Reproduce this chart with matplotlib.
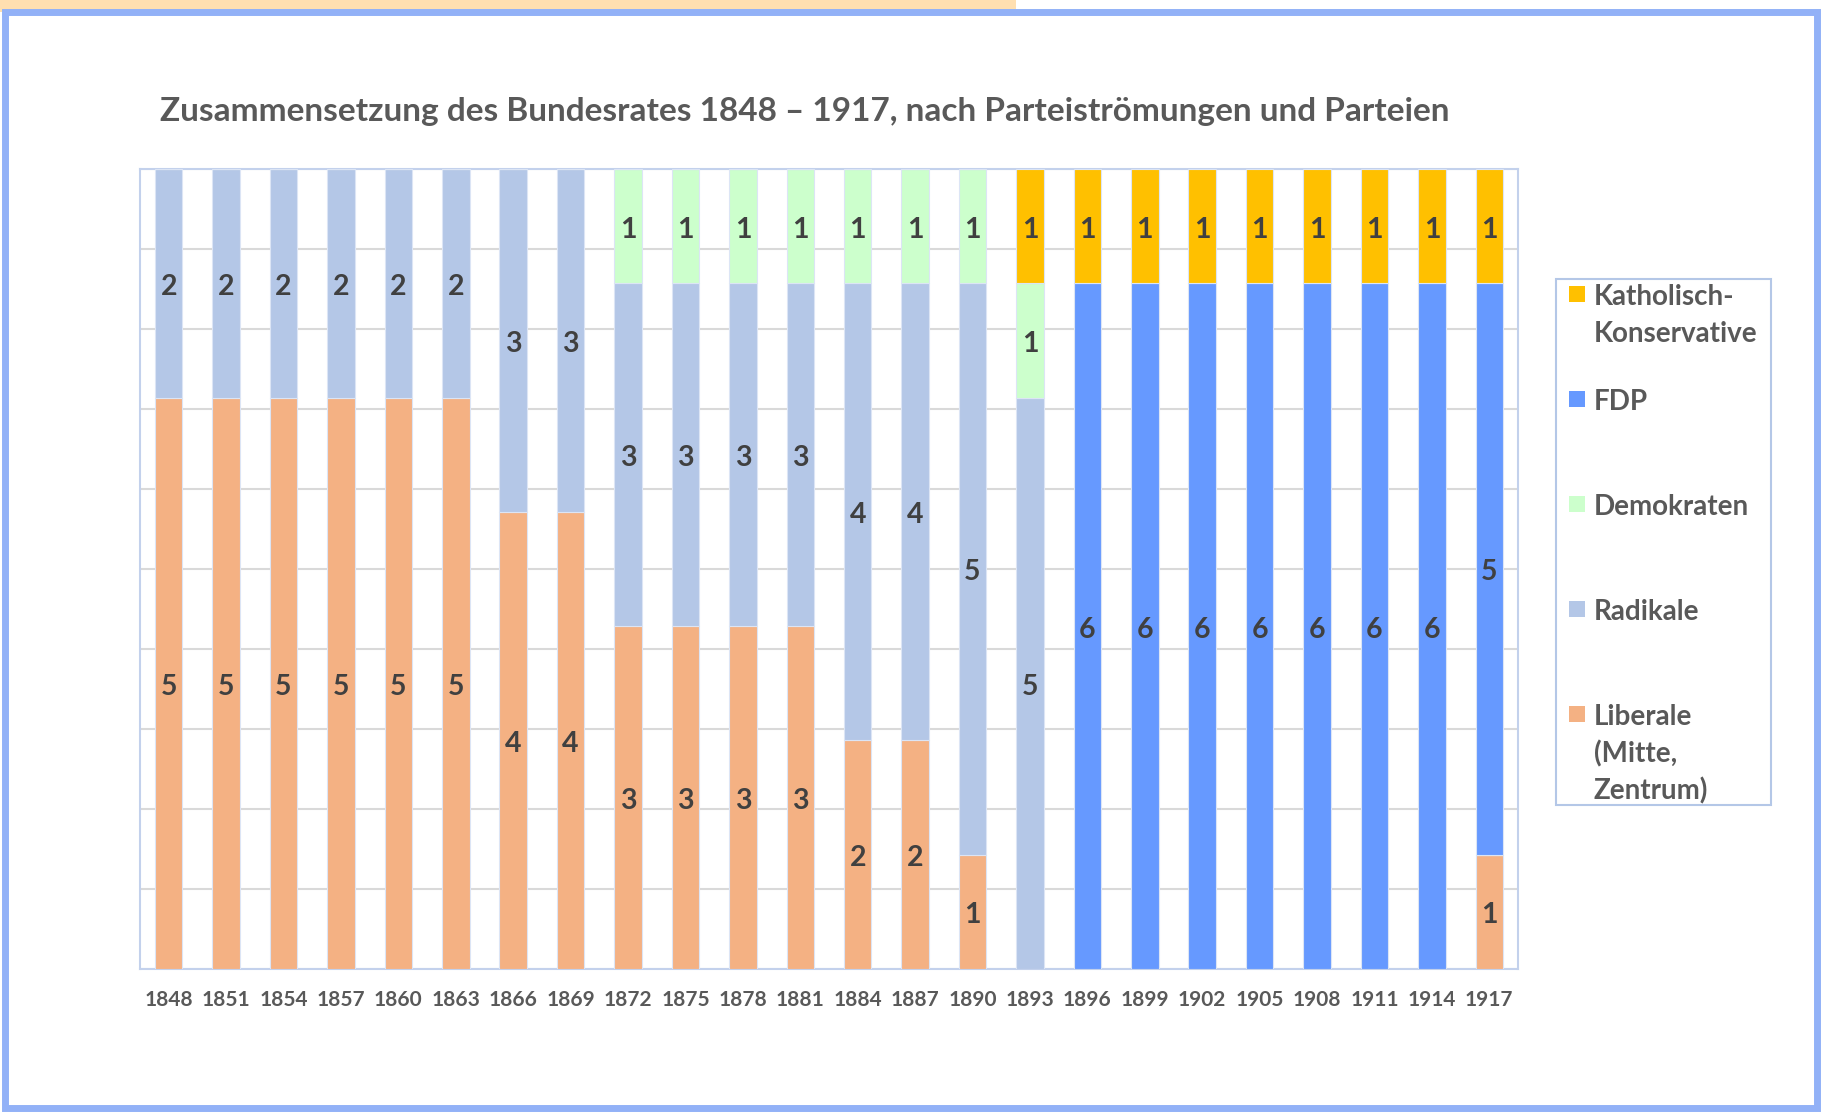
"""
Zusammensetzung des Bundesrates 1848-1917 (stacked bars)
"""

import numpy as np
import matplotlib.pyplot as plt
from matplotlib.patches import Rectangle

# ====================
# DATA
# ====================
years = ['1848', '1851', '1854', '1857', '1860', '1863', '1866', '1869',
         '1872', '1875', '1878', '1881', '1884', '1887', '1890', '1893',
         '1896', '1899', '1902', '1905', '1908', '1911', '1914', '1917']

liberale = [5, 5, 5, 5, 5, 5, 4, 4, 3, 3, 3, 3, 2, 2, 1, 0,
            0, 0, 0, 0, 0, 0, 0, 1]
radikale = [2, 2, 2, 2, 2, 2, 3, 3, 3, 3, 3, 3, 4, 4, 5, 5,
            0, 0, 0, 0, 0, 0, 0, 0]
demokraten = [0, 0, 0, 0, 0, 0, 0, 0, 1, 1, 1, 1, 1, 1, 1, 1,
              0, 0, 0, 0, 0, 0, 0, 0]
fdp = [0, 0, 0, 0, 0, 0, 0, 0, 0, 0, 0, 0, 0, 0, 0, 0,
       6, 6, 6, 6, 6, 6, 6, 5]
katholisch = [0, 0, 0, 0, 0, 0, 0, 0, 0, 0, 0, 0, 0, 0, 0, 1,
              1, 1, 1, 1, 1, 1, 1, 1]

series_names = ['Liberale\n(Mitte,\nZentrum)', 'Radikale', 'Demokraten',
                'FDP', 'Katholisch-\nKonservative']
series_values = [liberale, radikale, demokraten, fdp, katholisch]
series_colors = ['#F4B183', '#B4C7E7', '#CCFFCC', '#6699FF', '#FFC000']

FONT = ['Lato', 'DejaVu Sans']
plt.rcParams['font.family'] = FONT

W, H = 1830, 1118
fig = plt.figure(figsize=(W / 100, H / 100), dpi=100)
fig.patch.set_facecolor('white')


def px(x, y):
    # pixel (from top-left) -> figure fraction
    return x / W, 1 - y / H


# window frame
fig.patches.append(Rectangle((0, 1 - 12 / H), 1016 / W, 12 / H,
                             transform=fig.transFigure, facecolor='#FFDFB0',
                             edgecolor='none', zorder=0))
fig.patches.append(Rectangle((5 / W, 1 - 1108 / H), 1812 / W, 1096 / H,
                             transform=fig.transFigure, facecolor='none',
                             edgecolor='#92B1F7', linewidth=5, zorder=1))

# ====================
# BARS
# ====================
ax = fig.add_axes([140 / W, 1 - 969 / H, (1518 - 140) / W, (969 - 169) / H])
x = np.arange(len(years))
bottom = np.zeros(len(years))
for name, vals, col in zip(series_names, series_values, series_colors):
    vals = np.array(vals, dtype=float)
    ax.bar(x, vals, 0.48, bottom=bottom, color=col,
           edgecolor='#DCE5F5', linewidth=0.8, zorder=3)
    for xi, b, v in zip(x, bottom, vals):
        if v > 0:
            ax.annotate(f'{int(v)}', (xi, b + v / 2), xytext=(0, -2.5),
                        textcoords='offset points', ha='center', va='center',
                        fontsize=20.5, fontweight='bold', color='#404040',
                        zorder=4)
    bottom += vals

ax.set_xlim(-0.5, len(years) - 0.5)
ax.set_ylim(0, 7)
ax.set_yticks(np.arange(0, 7.01, 0.7))
ax.yaxis.grid(True, color='#D9D9D9', linewidth=1.5, zorder=0)
ax.tick_params(axis='y', left=False, labelleft=False)
ax.set_xticks(x)
ax.set_xticklabels(years, fontsize=15, fontweight='bold', color='#595959')
ax.tick_params(axis='x', length=0, pad=15)
for s in ax.spines.values():
    s.set_color('#C3D1EC')
    s.set_linewidth(1.5)

# ====================
# TITLE
# ====================
fig.text(*px(805, 112), 'Zusammensetzung des Bundesrates 1848 \u2013 1917, nach '
         'Parteiströmungen und Parteien', ha='center', va='center',
         fontsize=24, fontweight='bold', color='#595959')

# ====================
# LEGEND (Excel style: marker at first line)
# ====================
fig.patches.append(Rectangle(px(1556, 805), 215 / W, 526 / H,
                             transform=fig.transFigure, facecolor='white',
                             edgecolor='#B4C7E7', linewidth=1.5, zorder=2))
entry_y = [294, 399, 504, 609, 714]
legend_order = [4, 3, 2, 1, 0]
for y0, idx in zip(entry_y, legend_order):
    fig.patches.append(Rectangle(px(1569, y0 + 8), 16 / W, 16 / H,
                                 transform=fig.transFigure,
                                 facecolor=series_colors[idx],
                                 edgecolor='none', zorder=3))
    for i, line in enumerate(series_names[idx].split('\n')):
        fig.text(*px(1594, y0 + 3 + i * 37), line, ha='left', va='center',
                 fontsize=20, fontweight='bold', color='#595959', zorder=4)

plt.savefig('out.png', dpi=100)
